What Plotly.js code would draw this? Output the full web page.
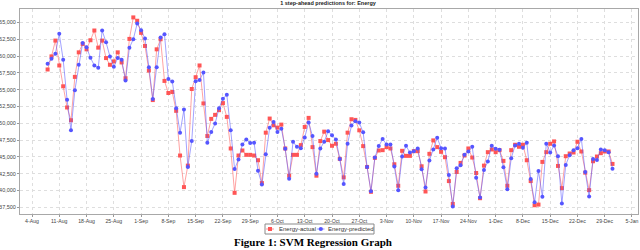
<!DOCTYPE html>
<html>
<head>
<meta charset="utf-8">
<script src="https://cdn.plot.ly/plotly-3.0.1.min.js"></script>
<style>
  html, body { margin: 0; padding: 0; background: #fff; }
  #chart { width: 640px; height: 250px; }
</style>
</head>
<body>
<div id="chart"></div>
<script>
// ---- data (daily, 8-Aug-2008 .. 31-Dec-2008) ----
var startDate = [2008, 7, 8];   // year, month index, day of first observation
var actual = [
  58000, 59950, 62300, 58600, 55500, 52350, 50450, 56900, 60550, 61800,
  61000, 62350, 63800, 61250, 62300, 59700, 58700, 59200, 60550, 59050,
  56700, 62550, 65750, 65250, 63450, 61500, 57850, 53450, 61000, 62500,
  56300, 54500, 54650, 51850, 45200, 40500, 43700, 55100, 56850, 58600,
  52950, 48100, 50650, 51250, 51950, 53000, 50950, 46250, 39650, 45200,
  45950, 45300, 45300, 45200, 44500, 41100, 48600, 50700, 49700, 49350,
  49800, 46250, 42200, 45300, 45300, 46750, 49450, 50800, 46450, 42200,
  47350, 48750, 47500, 46650, 46950, 44700, 41950, 48600, 50600, 50500,
  48950, 46600, 43500, 39800, 44850, 45950, 46000, 46450, 46250, 43900,
  40700, 45900, 45150, 45150, 45850, 45850, 43600, 39850, 45450, 47450,
  46450, 45750, 44950, 41400, 38000, 42750, 44100, 45200, 46250, 44900,
  42600, 38850, 43700, 45700, 46100, 45700, 46000, 44400, 40700, 46000,
  46800, 46500, 46800, 44500, 41400, 37800, 37900, 44250, 45700, 46950,
  47300, 43650, 40350, 45100, 45500, 45650, 47250, 45800, 42650, 40050,
  44350, 45050, 45550, 45800, 45800, 43950
];
var predicted = [
  58850, 59600, 60350, 63300, 59450, 53500, 48950, 54900, 58700, 61950,
  61300, 59750, 58600, 58250, 63800, 62050, 59950, 58400, 59700, 59450,
  56350, 61250, 62500, 64850, 63850, 62600, 58350, 53600, 58350, 62750,
  63250, 56600, 56200, 52250, 48600, 52050, 43500, 47350, 56250, 56450,
  57550, 47100, 48700, 49950, 52250, 53650, 54250, 48950, 43200, 44600,
  46850, 47600, 47050, 47100, 42950, 40900, 45400, 49350, 50200, 48700,
  49200, 46200, 41750, 47250, 46500, 46300, 47900, 50100, 48100, 42500,
  46250, 47250, 48800, 48200, 47600, 44700, 40950, 46950, 49650, 50300,
  50100, 48650, 43500, 39900, 44900, 46600, 47650, 46850, 46850, 43550,
  40050, 45050, 46650, 45650, 45850, 46250, 43150, 40450, 44450, 46100,
  47850, 46300, 46250, 42300, 37600, 43300, 43750, 45300, 45800, 46500,
  41900, 38950, 43050, 44300, 46650, 46200, 46050, 43450, 40200, 44800,
  46700, 46950, 46350, 47100, 41700, 38250, 42900, 39050, 46950, 45650,
  46700, 45100, 38050, 43800, 45250, 46000, 46300, 47650, 42750, 39100,
  44700, 44550, 46100, 46000, 45700, 43250
];
var seriesNames = ['Energy-actual', 'Energy-predicted'];
var chartTitle = '1 step-ahead predictions for: Energy';
var caption = 'Figure 1: SVM Regression Graph';

// category axis: consecutive days
var dates = actual.map(function (_, i) {
  return new Date(Date.UTC(startDate[0], startDate[1], startDate[2] + i)).toISOString().slice(0, 10);
});

var RED = '#ff5555', BLUE = '#5555ff';

var traces = [
  {
    x: dates, y: actual, name: seriesNames[0], type: 'scatter', mode: 'lines+markers',
    line: {color: 'rgba(255,85,85,0.55)', width: 1},
    marker: {color: RED, symbol: 'square', size: 4},
    showlegend: false, hoverinfo: 'skip'
  },
  {
    x: dates, y: predicted, name: seriesNames[1], type: 'scatter', mode: 'lines+markers',
    line: {color: 'rgba(85,85,255,0.55)', width: 1},
    marker: {color: BLUE, symbol: 'circle', size: 4},
    showlegend: false, hoverinfo: 'skip'
  }
];

// plot area in pixels: left 20, right 638, top 9, bottom 214
var L = 20, R = 638, T = 9, B = 214;
function px(x) { return (x - L) / (R - L); }
function py(y) { return (B - y) / (B - T); }

var legY = 229;
var shapes = [
  {type: 'rect', xref: 'paper', yref: 'paper', x0: px(265), x1: px(374), y0: py(234), y1: py(224),
   line: {color: '#8a8a8a', width: 1}, fillcolor: 'rgba(0,0,0,0)'},
  {type: 'line', xref: 'paper', yref: 'paper', x0: px(266), x1: px(274), y0: py(legY), y1: py(legY),
   line: {color: 'rgba(255,85,85,0.6)', width: 1}},
  {type: 'rect', xref: 'paper', yref: 'paper', x0: px(268), x1: px(272), y0: py(legY + 2), y1: py(legY - 2),
   line: {width: 0}, fillcolor: RED},
  {type: 'line', xref: 'paper', yref: 'paper', x0: px(317), x1: px(324.5), y0: py(legY), y1: py(legY),
   line: {color: 'rgba(85,85,255,0.6)', width: 1}},
  {type: 'circle', xref: 'paper', yref: 'paper', x0: px(318.7), x1: px(322.9), y0: py(legY + 2.1), y1: py(legY - 2.1),
   line: {width: 0}, fillcolor: BLUE}
];

var annotations = [
  {xref: 'paper', yref: 'paper', x: px(276.5), y: py(legY), xanchor: 'left', yanchor: 'middle',
   text: seriesNames[0], showarrow: false, font: {size: 6, color: '#333', family: 'Liberation Sans, Arial, sans-serif'}},
  {xref: 'paper', yref: 'paper', x: px(325.5), y: py(legY), xanchor: 'left', yanchor: 'middle',
   text: seriesNames[1], showarrow: false, font: {size: 6, color: '#333', family: 'Liberation Sans, Arial, sans-serif'}},
  {xref: 'paper', yref: 'paper', x: px(312.5), y: py(242), xanchor: 'center', yanchor: 'middle',
   text: '<b>' + caption + '</b>', showarrow: false,
   font: {size: 11, color: '#000', family: 'Liberation Serif, Times New Roman, serif'}}
];

var layout = {
  width: 640, height: 250,
  margin: {l: L, r: 640 - R, t: T, b: 250 - B, pad: 0},
  paper_bgcolor: '#ffffff', plot_bgcolor: '#ffffff',
  font: {family: 'Liberation Sans, Arial, sans-serif', size: 5.5, color: '#444'},
  title: {
    text: '<b>' + chartTitle + '</b>',
    font: {size: 5.5, color: '#222', family: 'Liberation Sans, Arial, sans-serif'},
    xref: 'container', yref: 'container', x: 328 / 640, y: 1 - 3.3 / 250,
    xanchor: 'center', yanchor: 'middle'
  },
  xaxis: {
    type: 'date',
    range: ['2008-07-31 22:00', '2009-01-06 13:00'],
    tick0: '2008-08-04', dtick: 7 * 86400000,
    tickformat: '%-d-%b',
    showgrid: true, gridcolor: '#dedede', griddash: 'dot', gridwidth: 1,
    showline: true, linecolor: '#a8a8a8', linewidth: 1, mirror: true,
    ticks: 'outside', ticklen: 2, tickcolor: '#999', tickwidth: 1,
    tickfont: {size: 5.2, color: '#444'},
    zeroline: false, fixedrange: true
  },
  yaxis: {
    range: [36500, 67000],
    tick0: 0, dtick: 2500, tickformat: ',d',
    showgrid: true, gridcolor: '#dedede', griddash: 'dot', gridwidth: 1,
    showline: true, linecolor: '#a8a8a8', linewidth: 1, mirror: true,
    ticks: 'outside', ticklen: 2, tickcolor: '#999', tickwidth: 1,
    tickfont: {size: 5.5, color: '#444'},
    zeroline: false, fixedrange: true
  },
  shapes: shapes,
  annotations: annotations,
  showlegend: false
};

Plotly.newPlot('chart', traces, layout, {displayModeBar: false, staticPlot: true});
</script>
</body>
</html>
